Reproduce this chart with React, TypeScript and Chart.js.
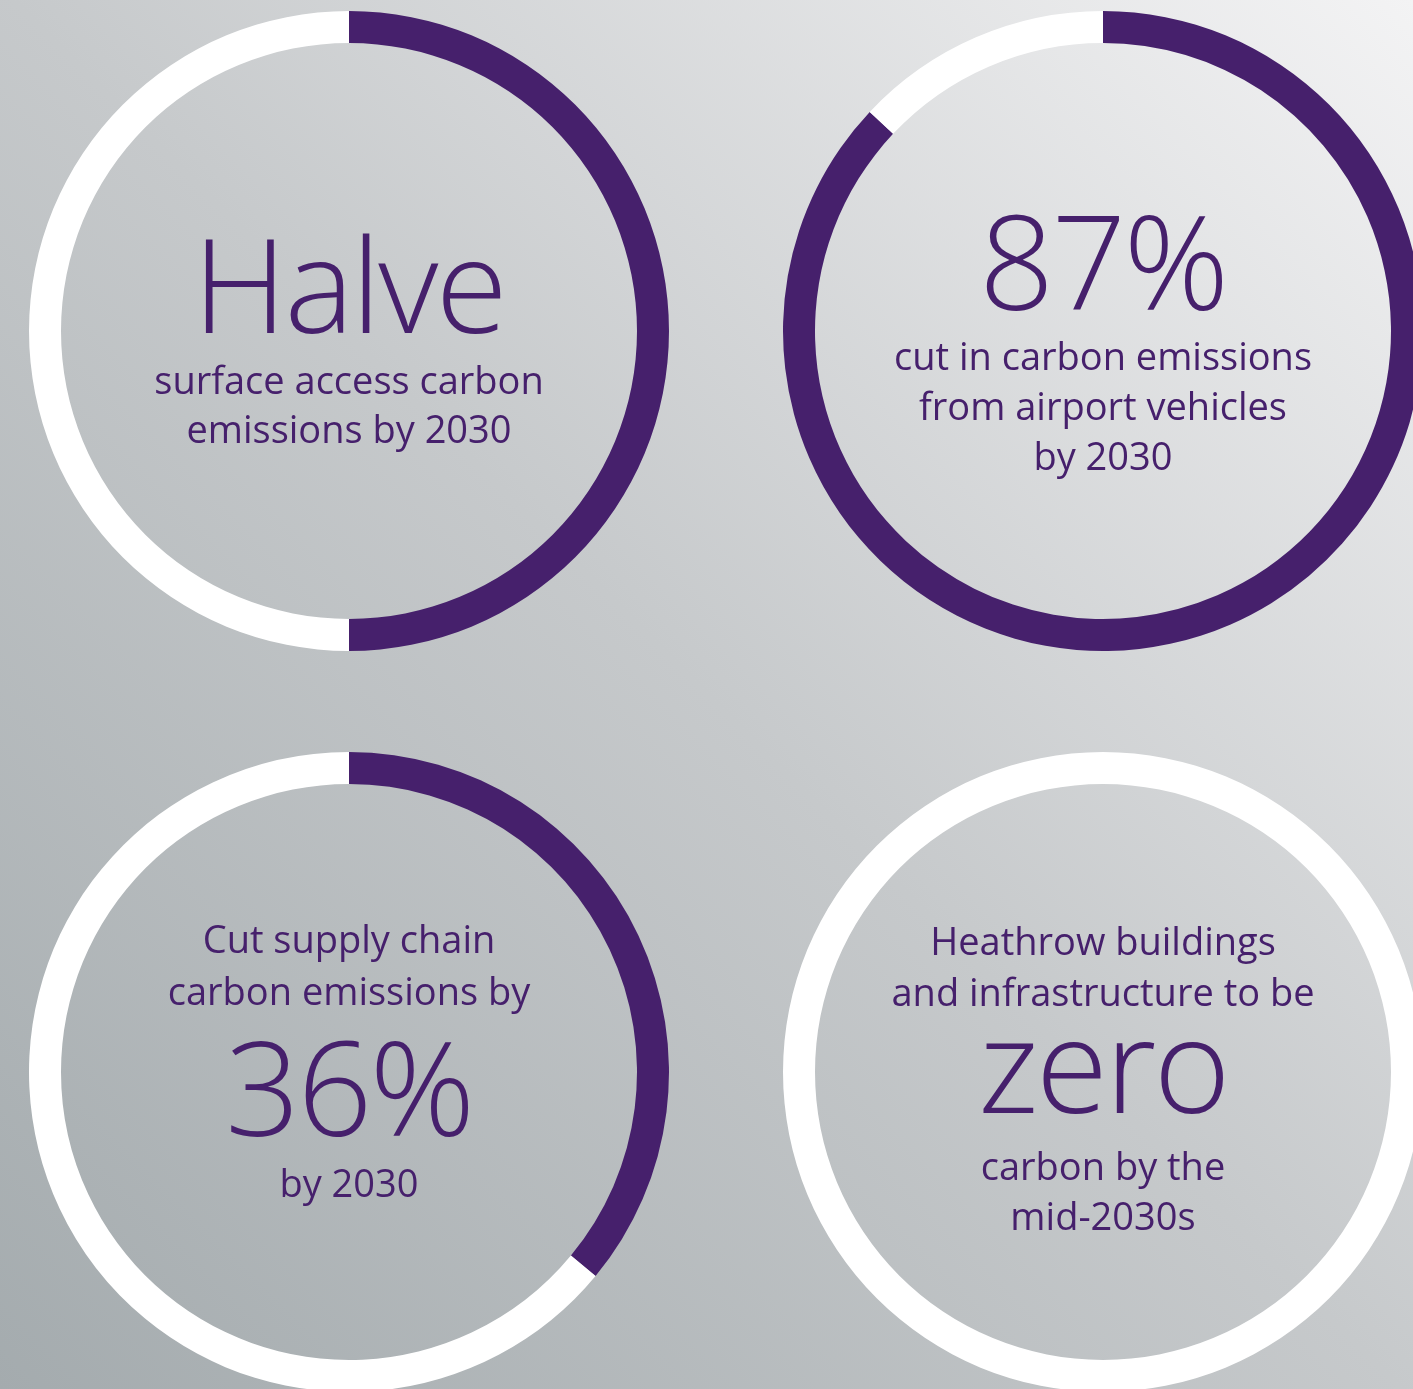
import React, { useEffect, useRef } from "react";
import { Chart, registerables } from "chart.js";

Chart.register(...registerables);

// ---- data ----
const categories = [
  "Surface access",
  "Airport vehicles",
  "Supply chain",
  "Buildings and infrastructure",
];
const achieved = [50, 87, 36, 0];
const remaining = [50, 13, 64, 100];
const headlines = ["Halve", "87%", "36%", "zero"];
const textBefore: string[][] = [
  [],
  [],
  ["Cut supply chain", "carbon emissions by"],
  ["Heathrow buildings", "and infrastructure to be"],
];
const textAfter: string[][] = [
  ["surface access carbon", "emissions by 2030"],
  ["cut in carbon emissions", "from airport vehicles", "by 2030"],
  ["by 2030"],
  ["carbon by the", "mid-2030s"],
];

// ---- layout / style ----
const PURPLE = "#46206c";
const TEXT = "#46206c";
const FONT = "'Open Sans', 'Noto Sans', sans-serif";
const W = 1413;
const H = 1389;
const R = 320;
const centers = [
  [349, 331],
  [1103, 331],
  [349, 1072],
  [1103, 1072],
];
// baselines (absolute y) for each ring: before lines, headline, after lines
const layouts = [
  { before: [], head: 333, after: [394, 443] },
  { before: [], head: 310, after: [370, 420, 470] },
  { before: [953, 1005], head: 1136, after: [1197] },
  { before: [955, 1006], head: 1113, after: [1180, 1230] },
];
const SMALL = 38;
const BIG = 131;

function Line({ text, cx, baseline, size, weight, spacing }: any) {
  const top = baseline - 0.888 * size;
  return (
    <div
      style={{
        position: "absolute",
        left: cx - 400,
        width: 800,
        top,
        textAlign: "center",
        fontFamily: FONT,
        fontWeight: weight,
        fontSize: size,
        lineHeight: `${size}px`,
        color: TEXT,
        whiteSpace: "nowrap",
        letterSpacing: spacing,
      }}
    >
      {text}
    </div>
  );
}

function Ring({ index }: { index: number }) {
  const ref = useRef<HTMLCanvasElement>(null);
  const [cx, cy] = centers[index];
  useEffect(() => {
    const chart = new Chart(ref.current!, {
      type: "doughnut",
      data: {
        labels: [categories[index], "Remaining"],
        datasets: [
          {
            data: [achieved[index], remaining[index]],
            backgroundColor: [PURPLE, "#ffffff"],
            borderWidth: 0,
            hoverOffset: 0,
          } as any,
        ],
      },
      options: {
        responsive: false,
        animation: false,
        cutout: "90%",
        layout: { padding: 0 },
        events: [],
        plugins: { legend: { display: false }, tooltip: { enabled: false } },
      } as any,
    });
    return () => chart.destroy();
  }, [index]);
  return (
    <canvas
      ref={ref}
      width={2 * R}
      height={2 * R}
      style={{
        position: "absolute",
        left: cx - R,
        top: cy - R,
        width: 2 * R,
        height: 2 * R,
      }}
    />
  );
}

export default function App() {
  return (
    <div
      style={{
        position: "absolute",
        left: 0,
        top: 0,
        width: W,
        height: H,
        overflow: "hidden",
        background:
          "linear-gradient(45deg, #a4abae 0%, #c6c9cb 50%, #f3f3f4 100%)",
      }}
    >
      {centers.map((_, i) => (
        <Ring key={i} index={i} />
      ))}
      {centers.map(([cx], i) => (
        <React.Fragment key={"t" + i}>
          {textBefore[i].map((t, j) => (
            <Line key={"b" + j} text={t} cx={cx} baseline={layouts[i].before[j]} size={SMALL} weight={400} spacing="0" />
          ))}
          <Line text={headlines[i]} cx={cx} baseline={layouts[i].head} size={BIG} weight={300} spacing="-0.02em" />
          {textAfter[i].map((t, j) => (
            <Line key={"a" + j} text={t} cx={cx} baseline={layouts[i].after[j]} size={SMALL} weight={400} spacing="0" />
          ))}
        </React.Fragment>
      ))}
    </div>
  );
}
